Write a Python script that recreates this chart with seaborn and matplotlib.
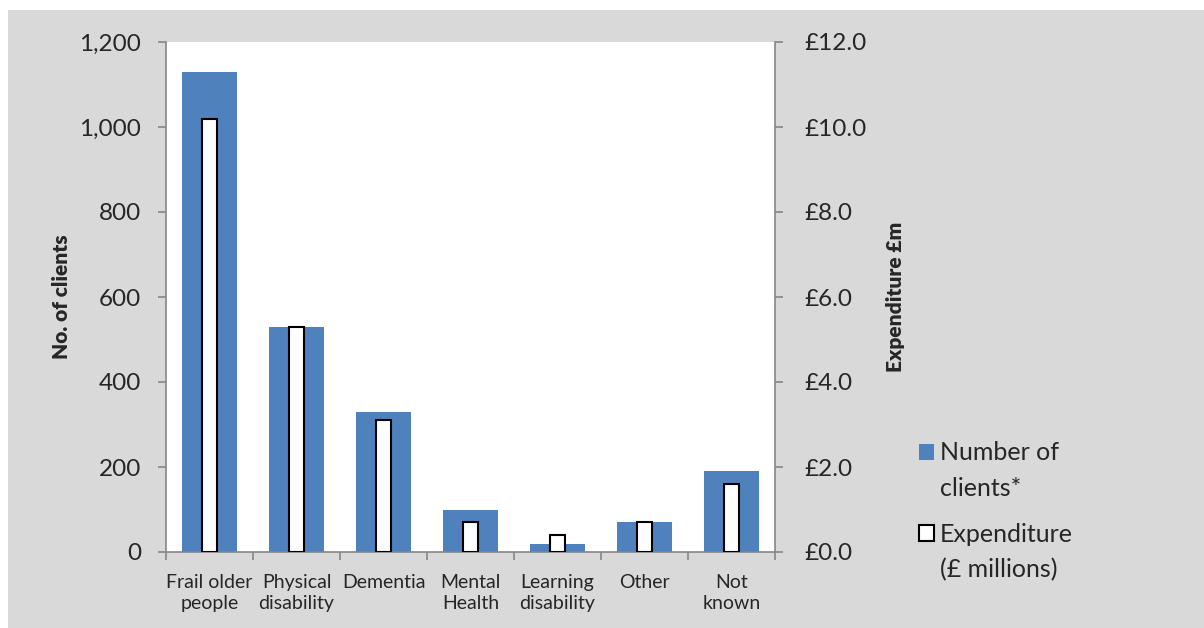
import numpy as np
import pandas as pd
import matplotlib
matplotlib.use("Agg")
import matplotlib.pyplot as plt
from matplotlib.patches import Patch, Rectangle
import seaborn as sns

categories = ["Frail older\npeople", "Physical\ndisability", "Dementia", "Mental\nHealth",
              "Learning\ndisability", "Other", "Not\nknown"]
clients = [1130, 530, 330, 100, 20, 70, 190]
expenditure = [10.2, 5.3, 3.1, 0.7, 0.4, 0.7, 1.6]

df = pd.DataFrame({"category": categories, "clients": clients, "expenditure": expenditure})

sns.set_style("white")
plt.rcParams["font.family"] = ["Lato", "DejaVu Sans"]

fig = plt.figure(figsize=(12.04, 6.28), dpi=100, facecolor="white")
# grey chart area
fig.patches.append(Rectangle((8 / 1204, 0), 1 - 8 / 1204, 1 - 10 / 628, transform=fig.transFigure,
                             facecolor="#D9D9D9", edgecolor="none", zorder=-10))

ax = fig.add_axes([166 / 1204, 76 / 628, 609 / 1204, 510 / 628])
ax.set_facecolor("white")
sns.barplot(data=df, x="category", y="clients", ax=ax, color="#4F81BD", width=0.64,
            saturation=1, linewidth=0)
ax.set_ylim(0, 1200)
ax.set_yticks(np.arange(0, 1201, 200))
ax.set_yticklabels([f"{v:,}" for v in range(0, 1201, 200)])
ax.set_ylabel("No. of clients", fontsize=15, fontweight="heavy", labelpad=6)
ax.set_xlabel("")

ax2 = ax.twinx()
sns.barplot(data=df, x="category", y="expenditure", ax=ax2, color="white", width=0.17,
            saturation=1, edgecolor="black", linewidth=1.5)
ax2.set_ylim(0, 12)
ax2.set_yticks(np.arange(0, 12.1, 2))
ax2.set_yticklabels([f"£{v:.1f}" for v in np.arange(0, 12.1, 2)])
ax2.set_ylabel("Expenditure £m", fontsize=15, fontweight="heavy", labelpad=13.5)
ax2.set_xlabel("")
ax2.set_xlim(-0.5, 6.5)
ax.set_xlim(-0.5, 6.5)

spine_c = "#868686"
for a in (ax, ax2):
    a.spines["top"].set_visible(False)
    for s in ("left", "right", "bottom"):
        a.spines[s].set_color(spine_c)
        a.spines[s].set_linewidth(1.2)
ax.spines["right"].set_visible(False)
ax2.spines["left"].set_visible(False)
ax2.spines["bottom"].set_visible(False)

ax.tick_params(axis="y", which="major", left=True, length=6, width=1.2, color=spine_c,
               labelsize=17.5, pad=12)
ax2.tick_params(axis="y", which="major", right=True, length=6, width=1.2, color=spine_c,
                labelsize=17.5, pad=15.5)
ax.set_xticks(range(len(categories)))
ax.set_xticklabels(categories, fontsize=14, va="top", linespacing=1.25)
ax.set_xticks(np.arange(-0.5, 7, 1), minor=True)
ax.tick_params(axis="x", which="major", length=0, pad=16)
ax.tick_params(axis="x", which="minor", bottom=True, length=6, color=spine_c, width=1.2)

# legend: one small legend per series so the marker sits on the first text line
blank = Patch(facecolor="none", edgecolor="none")
leg_items = [
    ([Patch(facecolor="#4F81BD", edgecolor="none"), blank], ["Number of", "clients*"], 452),
    ([Patch(facecolor="white", edgecolor="black", linewidth=1.5), blank],
     ["Expenditure", "(£ millions)"], 533),
]
for h, lab, ytop in leg_items:
    fig.legend(handles=h, labels=lab, loc="upper left",
               bbox_to_anchor=(896 / 1204, 1 - (ytop - 33) / 628),
               frameon=False, fontsize=18, handlelength=0.62, handleheight=0.62,
               handletextpad=0.25, labelspacing=0.5)

fig.savefig("out.png", dpi=100, facecolor=fig.get_facecolor())
